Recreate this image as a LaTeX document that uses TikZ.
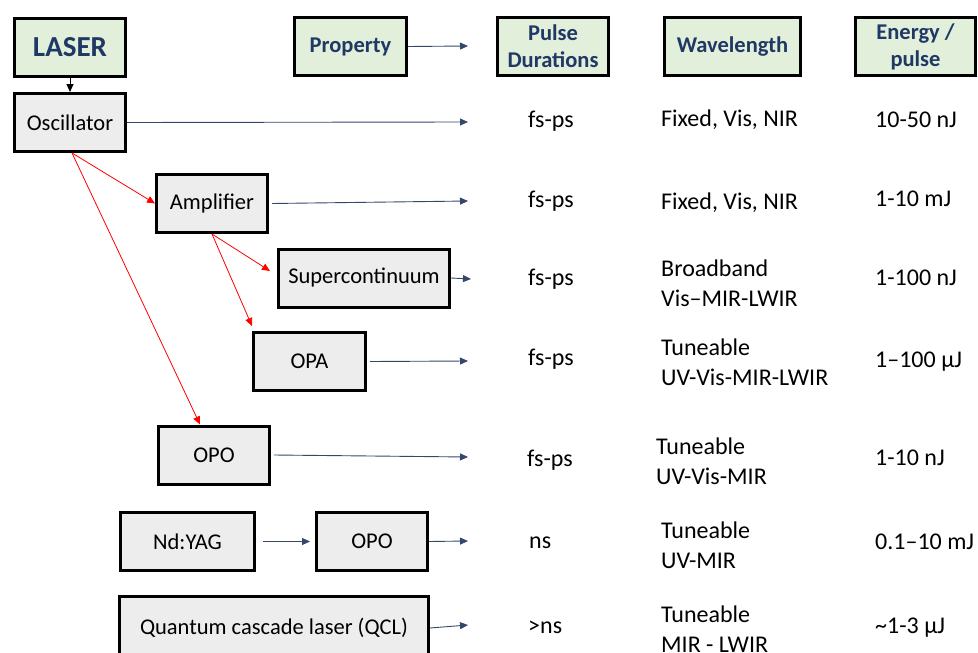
\documentclass[tikz,border=0pt]{standalone}
\usepackage{fontspec}
\setmainfont{Carlito}
\usetikzlibrary{arrows.meta,calc}
\definecolor{hdrfill}{HTML}{E2EFDA}
\definecolor{boxfill}{HTML}{EDEDED}
\definecolor{hdrtext}{HTML}{1F3864}
\definecolor{arrblue}{HTML}{34486A}
\definecolor{arrred}{HTML}{FF0000}
\begin{document}
\begin{tikzpicture}[x=1pt,y=-1pt,
  hdr/.style={draw=black,line width=3pt,fill=hdrfill,text=hdrtext,font=\fontsize{22.5}{27}\selectfont\bfseries,align=center,inner sep=0pt,minimum height=58pt},
  unit/.style={draw=black,line width=3pt,fill=boxfill,font=\fontsize{22.5}{27}\selectfont,inner sep=0pt,minimum height=58pt},
  val/.style={font=\fontsize{24}{30}\selectfont,anchor=west,align=left,inner sep=0pt},
  blue/.style={draw=arrblue,line width=0.9pt,-{Triangle[length=8pt,width=7pt]}},
  red/.style={draw=arrred,line width=0.8pt,-{Triangle[length=8pt,width=7pt]}},
  blk/.style={draw=black,line width=0.9pt,-{Triangle[length=8pt,width=7pt]}}]
\useasboundingbox (0,0) rectangle (978,653);
% header
\node[hdr,minimum width=111pt,font=\fontsize{29}{30}\selectfont\bfseries] (laser) at (70,47) {LASER};
\node[hdr,minimum width=112pt] (prop) at (350.5,46.5) {Property};
\node[hdr,minimum width=111pt] (pulse) at (553,46.5) {Pulse\\Durations};
\node[hdr,minimum width=136pt] (wave) at (732.5,46.5) {Wavelength};
\node[hdr,minimum width=120pt] (energy) at (915.5,46.5) {Energy /\\pulse};
\coordinate (propend) at (468,46);
\draw[blue] (prop.east) -- (propend);
% units
\node[unit,minimum width=111pt] (osc) at (70,122.5) {Oscillator};
\node[unit,minimum width=111pt] (amp) at (212,203.5) {Amplifier};
\node[unit,minimum width=171pt] (sc) at (364,278) {Supercontinuum};
\node[unit,minimum width=112pt] (opa) at (309.5,361.5) {OPA};
\node[unit,minimum width=111pt] (opo1) at (214,455) {OPO};
\node[unit,minimum width=134pt] (ndyag) at (187.5,541.5) {Nd:YAG};
\node[unit,minimum width=111pt] (opo2) at (372,541.5) {OPO};
\node[unit,minimum width=309pt,minimum height=64pt] (qcl) at (274,628) {Quantum cascade laser (QCL)};
\draw[blk] (laser.south) -- (osc.north);
% red arrows
\draw[red] ([xshift=2pt]osc.south) -- (amp.west);
\draw[red] ([xshift=2pt]osc.south) -- ([xshift=-14pt]opo1.north);
\draw[red] (amp.south) -- ([xshift=-7pt,yshift=7pt]sc.west);
\draw[red] (amp.south) -- ([yshift=5pt]opa.north west);
% outputs
\coordinate (o1) at (468,122);
\coordinate (o2) at (468,201);
\coordinate (o3) at (471,279);
\coordinate (o4) at (468,361);
\coordinate (o5) at (468,457);
\coordinate (o6) at (468,541);
\coordinate (o7) at (468,625);
\draw[blue] (osc.east) -- (o1);
\draw[blue] ([xshift=3pt]amp.east) -- (o2);
\draw[blue] (sc.east) -- (o3);
\draw[blue] ([xshift=3pt]opa.east) -- (o4);
\draw[blue] ([xshift=3pt]opo1.east) -- (o5);
\draw[blue] ([xshift=7pt]ndyag.east) -- ([xshift=-5pt]opo2.west);
\draw[blue] (opo2.east) -- (o6);
\draw[blue] (qcl.east) -- (o7);
% pulse duration column
\node[val] (p1) at (528,121) {fs-ps};
\node[val] (p2) at (528,201) {fs-ps};
\node[val] (p3) at (528,279) {fs-ps};
\node[val] (p4) at (528,359) {fs-ps};
\node[val] (p5) at (527,460) {fs-ps};
\node[val] (p6) at (529,543) {ns};
\node[val] (p7) at (528,627) {>ns};
% wavelength column
\node[val] (w1) at (661,120) {Fixed, Vis, NIR};
\node[val] (w2) at (661,203) {Fixed, Vis, NIR};
\node[val] (w3) at (661,283) {Broadband\\Vis–MIR-LWIR};
\node[val] (w4) at (661,362) {Tuneable\\UV-Vis-MIR-LWIR};
\node[val] (w5) at (656,461) {Tuneable\\UV-Vis-MIR};
\node[val] (w6) at (661,545) {Tuneable\\UV-MIR};
\node[val] (w7) at (661,629) {Tuneable\\MIR - LWIR};
% energy column
\node[val] (e1) at (875,120) {10-50 nJ};
\node[val] (e2) at (875,199) {1-10 mJ};
\node[val] (e3) at (875,278) {1-100 nJ};
\node[val] (e4) at (875,362) {1–100 μJ};
\node[val] (e5) at (875,458) {1-10 nJ};
\node[val] (e6) at (875,542) {0.1–10 mJ};
\node[val] (e7) at (875,628) {\char"007E 1-3 μJ};
\end{tikzpicture}
\end{document}
